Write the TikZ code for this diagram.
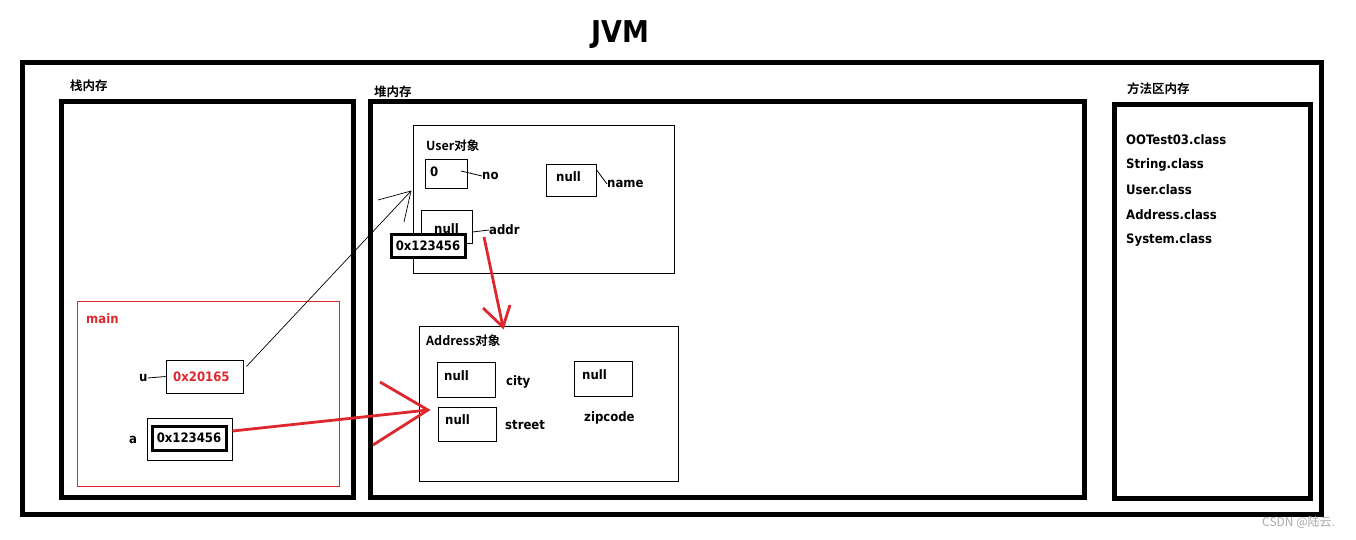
\documentclass[tikz,border=0pt]{standalone}
\usepackage{fontspec}
\setmainfont{DejaVu Sans Condensed}
\newfontfamily\cjk{Noto Sans CJK SC}[BoldFont={Noto Sans CJK SC Bold}]
\definecolor{jred}{RGB}{222,40,46}
\definecolor{wm}{RGB}{170,170,170}
\begin{document}
\begin{tikzpicture}[x=1pt,y=-1pt,
  thickbox/.style={draw,line width=5pt,inner sep=0pt},
  thinbox/.style={draw,line width=0.8pt,inner sep=0pt},
  ptrbox/.style={draw,line width=3pt,fill=white,inner sep=0pt,font=\bfseries\fontsize{13}{14}\selectfont},
  lbl/.style={anchor=west,inner sep=0pt,font=\bfseries\fontsize{13}{14}\selectfont},
  clbl/.style={anchor=west,inner sep=0pt,font=\cjk\bfseries\fontsize{12.5}{14}\selectfont},
  redarrow/.style={draw=jred,line width=2.8pt},
  thinarrow/.style={draw,line width=0.7pt}]
\useasboundingbox (0,0) rectangle (1356,539);
% title
\node[inner sep=0pt,font=\bfseries\fontsize{30}{32}\selectfont] (title) at (620,35) {JVM};
% frames
\node[thickbox,minimum width=1299,minimum height=452] (jvm) at (671.5,288) {};
\node[thickbox,minimum width=292,minimum height=396] (stack) at (207,299) {};
\node[thickbox,minimum width=714,minimum height=396] (heap) at (727,299) {};
\node[thickbox,minimum width=196,minimum height=394] (method) at (1212,301) {};
\node[clbl] (stacklbl) at (70,86) {栈内存};
\node[clbl] (heaplbl) at (374,92) {堆内存};
\node[clbl] (methodlbl) at (1127,89) {方法区内存};
% method area classes
\node[lbl] (c1) at (1126,140) {OOTest03.class};
\node[lbl] (c2) at (1126,165) {String.class};
\node[lbl] (c3) at (1126,190) {User.class};
\node[lbl] (c4) at (1126,215) {Address.class};
\node[lbl] (c5) at (1126,240) {System.class};
% main frame
\node[draw=jred,line width=0.8pt,inner sep=0pt,minimum width=262,minimum height=185] (main) at (208,393.5) {};
\node[lbl,text=jred] (mainlbl) at (86,319) {main};
\node[thinbox,minimum width=77,minimum height=33] (ubox) at (204.5,376.5) {};
\node[lbl,text=jred] (uval) at (173,377) {0x20165};
\node[lbl] (ulbl) at (139,378) {u};
\draw[line width=0.8pt] (ulbl.east) -- (ubox.west);
\node[thinbox,minimum width=85,minimum height=42] (abox) at (189.5,439) {};
\node[ptrbox,minimum width=74,minimum height=24] (aptr) at (189,438) {0x123456};
\node[lbl] (albl) at (129,440) {a};
% User object
\node[thinbox,minimum width=261,minimum height=148] (user) at (543.5,199) {};
\node[clbl] (userlbl) at (426,146) {User对象};
\node[thinbox,minimum width=42,minimum height=29] (box0) at (446,173.5) {};
\node[lbl] (v0) at (430,172) {0};
\node[lbl] (nolbl) at (482,176) {no};
\coordinate (no0) at (461,171);
\draw[line width=0.8pt] (no0) -- (nolbl.west);
\node[thinbox,minimum width=50,minimum height=32] (boxname) at (571,180) {};
\node[lbl] (vname) at (556,177) {null};
\node[lbl] (namelbl) at (607,184) {name};
\draw[line width=0.8pt] ([yshift=-6]boxname.north east) -- (namelbl.west);
\node[thinbox,minimum width=51,minimum height=33] (boxaddr) at (446.5,227) {};
\node[lbl] (vaddr) at (434,229) {null};
\node[lbl] (addrlbl) at (489,230) {addr};
\draw[line width=0.8pt] ([yshift=-5]boxaddr.east) -- (addrlbl.west);
\node[ptrbox,minimum width=74,minimum height=23] (addrptr) at (428,245.5) {0x123456};
% Address object
\node[thinbox,minimum width=259,minimum height=155] (addr) at (548.5,403.5) {};
\node[clbl] (addrobjlbl) at (426,341) {Address对象};
\node[thinbox,minimum width=58,minimum height=35] (boxcity) at (466,379.5) {};
\node[lbl] (vcity) at (444,376) {null};
\node[lbl] (citylbl) at (506,382) {city};
\node[thinbox,minimum width=58,minimum height=34] (boxstreet) at (467,424) {};
\node[lbl] (vstreet) at (445,420) {null};
\node[lbl] (streetlbl) at (505,425) {street};
\node[thinbox,minimum width=58,minimum height=35] (boxzip) at (603,378.5) {};
\node[lbl] (vzip) at (582,375) {null};
\node[lbl] (ziplbl) at (584,418) {zipcode};
% black arrow u -> User
\coordinate (utip) at (411,191);
\coordinate (uh1) at (378,200);
\coordinate (uh2) at (404,222);
\draw[thinarrow] ([xshift=3,yshift=10]ubox.east) -- (utip);
\draw[thinarrow] (uh1) -- (utip) -- (uh2);
% red arrow addr -> Address
\coordinate (r1s) at (484,237);
\coordinate (r1t) at (503,327);
\coordinate (r1a) at (483,308);
\coordinate (r1b) at (510,305);
\draw[redarrow] (r1s) -- (r1t);
\draw[redarrow] (r1a) -- (r1t) -- (r1b);
% red arrow a -> Address
\coordinate (r2t) at (428,410);
\coordinate (r2a) at (380,382);
\coordinate (r2b) at (373,445);
\draw[redarrow] ([xshift=5,yshift=7]aptr.east) -- (r2t);
\draw[redarrow] (r2a) -- (r2t) -- (r2b);
% watermark
\node[anchor=west,inner sep=0pt,text=wm,font=\cjk\fontsize{12}{14}\selectfont] (wmk) at (1262,523) {CSDN @陆云.};
\end{tikzpicture}
\end{document}
